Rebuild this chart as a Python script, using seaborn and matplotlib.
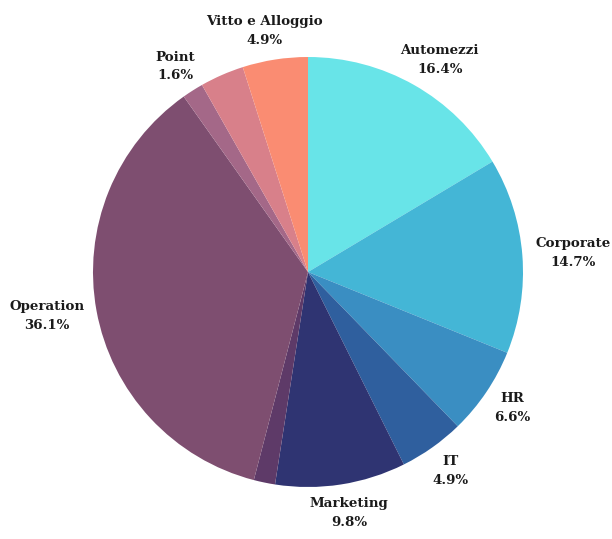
import matplotlib
matplotlib.use("Agg")
import matplotlib.pyplot as plt
import seaborn as sns
import numpy as np

categories = ["Automezzi", "Corporate", "HR", "IT", "Marketing", "Materiali",
              "Operation", "Point", "Spese Varie", "Vitto e Alloggio"]
values = [16.4, 14.7, 6.6, 4.9, 9.8, 1.6, 36.1, 1.6, 3.3, 4.9]
show_label = [True, True, True, True, True, False, True, True, False, True]
colors_hex = ["#68E4E8", "#44B6D6", "#3A8EC2", "#2F5F9E", "#2F3472", "#5E3A68",
              "#7E4E70", "#A46888", "#D8808A", "#FA8C72"]

sns.set_theme(style="white")
plt.rcParams['font.family'] = ['DejaVu Serif']
palette = sns.color_palette(colors_hex)

W, H = 612, 539
fig = plt.figure(figsize=(W / 100, H / 100), dpi=100)
ax = fig.add_axes([0, 0, 1, 1])
R = 215.0
cx, cy = 308.0, 272.0
ax.axis('off')

wedges, _ = ax.pie(values, colors=palette, startangle=90, counterclock=False,
                   radius=1.0, wedgeprops=dict(linewidth=0))
ax.set_aspect('auto')
ax.set_xlim(-cx / R, (W - cx) / R)
ax.set_ylim(-(H - cy) / R, cy / R)

fig.canvas.draw()
renderer = fig.canvas.get_renderer()
for w, name, v, show in zip(wedges, categories, values, show_label):
    if not show:
        continue
    ang = np.deg2rad((w.theta1 + w.theta2) / 2)
    ux, uy = np.cos(ang), np.sin(ang)
    ax_ = 1.06 * ux
    ay_ = 1.06 * uy
    t = ax.text(ax_, ay_, f"{name}\n{v:.1f}%", ha='center', va='center',
                fontsize=9.6, fontweight='bold', color='#1a1a1a',
                linespacing=1.55, multialignment='center')
    bb = t.get_window_extent(renderer)
    tw, th = bb.width / R, bb.height / R
    t.set_position((ax_ + tw / 2 * ux, ay_ + th / 2 * uy))

fig.savefig("out.png", dpi=100, facecolor='white')
